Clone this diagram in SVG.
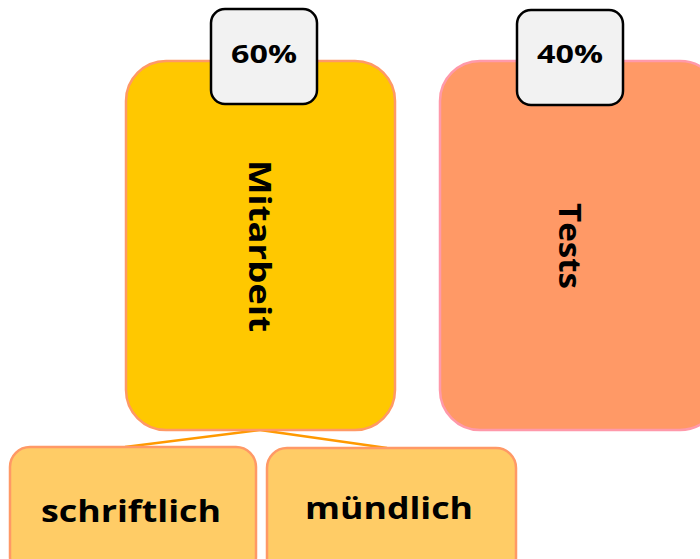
<svg xmlns="http://www.w3.org/2000/svg" width="700" height="559" viewBox="0 0 700 559">
<style>
text{font-family:"Comic Sans MS","Open Sans","Liberation Sans",sans-serif;font-weight:bold;fill:#000;text-anchor:middle;dominant-baseline:central}
.pct{fill:#F2F2F2;stroke:#000;stroke-width:2.5}
.conn{stroke:#FF9900;stroke-width:2.5;fill:none}
.sub{fill:#FFCC66;stroke:#FF9966;stroke-width:2.5}
</style>
<rect width="700" height="559" fill="#fff"/>
<g id="connectors">
<line class="conn" x1="260" y1="430" x2="125" y2="447"/>
<line class="conn" x1="260" y1="430" x2="387" y2="448"/>
</g>
<g id="mitarbeit">
<rect x="126" y="61" width="269" height="369" rx="40" fill="#FFC800" stroke="#FF9966" stroke-width="2.5"/>
<text transform="translate(260,246) rotate(90)" font-size="30" textLength="172" lengthAdjust="spacingAndGlyphs">Mitarbeit</text>
</g>
<g id="pct60">
<rect class="pct" x="211" y="9" width="106" height="95" rx="14"/>
<text x="264" y="53" font-size="25" textLength="66" lengthAdjust="spacingAndGlyphs">60%</text>
</g>
<g id="tests">
<rect x="440" y="61" width="280" height="369" rx="40" fill="#FF9966" stroke="#FF99AA" stroke-width="2.5"/>
<text transform="translate(570,246) rotate(90)" font-size="30" textLength="86" lengthAdjust="spacingAndGlyphs">Tests</text>
</g>
<g id="pct40">
<rect class="pct" x="517" y="10" width="106" height="95" rx="14"/>
<text x="570" y="53" font-size="25" textLength="66" lengthAdjust="spacingAndGlyphs">40%</text>
</g>
<g id="schriftlich">
<rect class="sub" x="10" y="447" width="246" height="130" rx="20"/>
<text x="131" y="510" font-size="31" textLength="180" lengthAdjust="spacingAndGlyphs">schriftlich</text>
</g>
<g id="muendlich">
<rect class="sub" x="267" y="448" width="249" height="130" rx="20"/>
<text x="389" y="507" font-size="31" textLength="168" lengthAdjust="spacingAndGlyphs">mündlich</text>
</g>
</svg>
